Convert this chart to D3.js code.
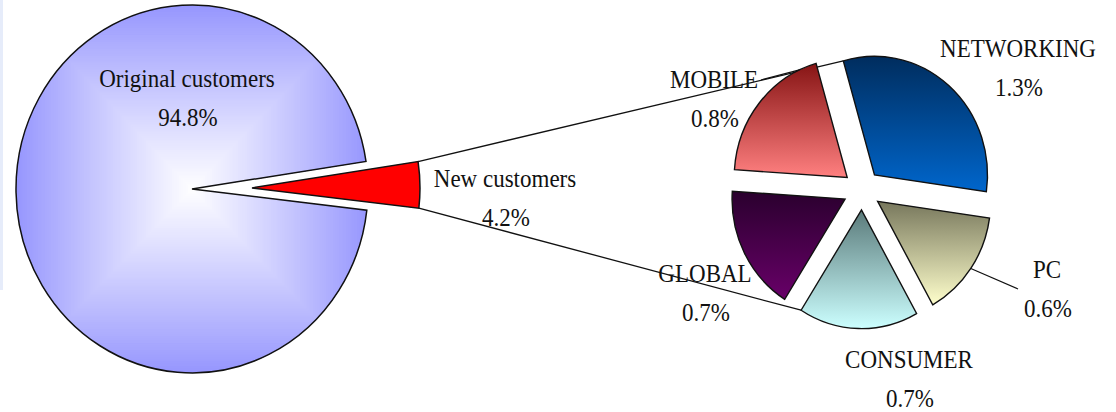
<!DOCTYPE html>
<html>
<head>
<meta charset="utf-8">
<script src="https://cdn.jsdelivr.net/npm/d3@7"></script>
<style>
  html, body { margin: 0; padding: 0; background: #fff; }
  text { font-family: 'Liberation Serif', 'Times New Roman', serif; fill: #111; }
</style>
</head>
<body>
<div id="chart"></div>
<script>
// data
var mainLabels = ['Original customers', 'New customers']
var mainValues = [94.8, 4.2]
var subLabels = ['NETWORKING', 'PC', 'CONSUMER', 'GLOBAL', 'MOBILE']
var subValues = [1.3, 0.6, 0.7, 0.7, 0.8]

var width = 1116
var height = 412
var deg = Math.PI / 180

var svg = d3
  .select('#chart')
  .append('svg')
  .attr('width', width)
  .attr('height', height)

var defs = svg.append('defs')

// slice gradients, top -> bottom
var subColors = {
  NETWORKING: ['#002d5e', '#0066cc'],
  PC: ['#77775c', '#ffffcc'],
  CONSUMER: ['#5a7a7a', '#ccffff'],
  GLOBAL: ['#2a002e', '#680068'],
  MOBILE: ['#861414', '#ff8080']
}
subLabels.forEach(function(name) {
  var g = defs.append('linearGradient')
    .attr('id', 'grad-' + name)
    .attr('x1', 0).attr('y1', 0).attr('x2', 0).attr('y2', 1)
  g.append('stop').attr('offset', '0%').attr('stop-color', subColors[name][0])
  g.append('stop').attr('offset', '100%').attr('stop-color', subColors[name][1])
})

// faint strip on the left edge
svg.append('rect')
  .attr('x', 0).attr('y', 0).attr('width', 3).attr('height', 290)
  .attr('fill', '#e6ecfa')

// ---------- main pie ----------
var main = { cx: 192, cy: 189, r: 176, sy: 1.045, explode: 60, rNew: 168, mid: 89 * deg }
var total = d3.sum(mainValues)
var newSpan = mainValues[1] / total * 2 * Math.PI
var mainStart = main.mid + newSpan / 2
var mainArcs = d3.pie().sort(null)
  .startAngle(mainStart)
  .endAngle(mainStart + 2 * Math.PI)(mainValues)

var gMain = svg.append('g')
  .attr('transform', 'translate(' + main.cx + ',' + main.cy + ') scale(1,' + main.sy + ')')

var arcOrig = d3.arc().innerRadius(0).outerRadius(main.r)
var arcNew = d3.arc().innerRadius(0).outerRadius(main.rNew)

// rectangular "from center" gradient, clipped to the big slice
defs.append('clipPath').attr('id', 'clip-orig')
  .append('path').attr('d', arcOrig(mainArcs[0]))
var steps = d3.range(80)
var fillCol = d3.interpolateRgb('#9696fe', '#ffffff')
gMain.append('g').attr('clip-path', 'url(#clip-orig)')
  .selectAll('rect')
  .data(steps)
  .join('rect')
  .attr('x', d => -main.r * (1 - d / steps.length))
  .attr('y', d => -main.r * (1 - d / steps.length))
  .attr('width', d => 2 * main.r * (1 - d / steps.length))
  .attr('height', d => 2 * main.r * (1 - d / steps.length))
  .attr('fill', d => fillCol(Math.pow(d / steps.length, 0.95)))

gMain.append('path')
  .attr('d', arcOrig(mainArcs[0]))
  .attr('fill', 'none')
  .attr('stroke', '#111')
  .attr('stroke-width', 1.5)
  .attr('vector-effect', 'non-scaling-stroke')

var newOff = [Math.sin(main.mid) * main.explode, -Math.cos(main.mid) * main.explode]
gMain.append('path')
  .attr('transform', 'translate(' + newOff[0] + ',' + newOff[1] + ')')
  .attr('d', arcNew(mainArcs[1]))
  .attr('fill', '#ff0000')
  .attr('stroke', '#111')
  .attr('stroke-width', 1.5)
  .attr('vector-effect', 'non-scaling-stroke')

// ---------- secondary pie ----------
var sub = { cx: 862, cy: 190, r: 113, sy: 1.05, explode: 19, start: -16 * deg }
var subArcs = d3.pie().sort(null)
  .startAngle(sub.start)
  .endAngle(sub.start + 2 * Math.PI)(subValues)
var arcSub = d3.arc().innerRadius(0).outerRadius(sub.r)

function midOf(a) { return (a.startAngle + a.endAngle) / 2 }
function offOf(a) {
  var m = midOf(a)
  return [Math.sin(m) * sub.explode, -Math.cos(m) * sub.explode]
}
// point on the outer arc of a secondary slice, in page coords
function subPoint(a, angle) {
  var o = offOf(a)
  return [
    sub.cx + o[0] + Math.sin(angle) * sub.r,
    sub.cy + sub.sy * (o[1] - Math.cos(angle) * sub.r)
  ]
}
function mainNewPoint(angle) {
  return [
    main.cx + newOff[0] + Math.sin(angle) * main.rNew,
    main.cy + main.sy * (newOff[1] - Math.cos(angle) * main.rNew)
  ]
}

// connector lines between the pies
var line = d3.line()
var first = subArcs[0]
var cons = subArcs[2]
svg.append('path')
  .attr('d', line([mainNewPoint(mainArcs[1].startAngle), subPoint(first, first.startAngle)]))
  .attr('stroke', '#111').attr('stroke-width', 1.3).attr('fill', 'none')
svg.append('path')
  .attr('d', line([mainNewPoint(mainArcs[1].endAngle), subPoint(cons, cons.endAngle)]))
  .attr('stroke', '#111').attr('stroke-width', 1.3).attr('fill', 'none')

var gSub = svg.append('g')
  .attr('transform', 'translate(' + sub.cx + ',' + sub.cy + ') scale(1,' + sub.sy + ')')

gSub.selectAll('path')
  .data(subArcs)
  .join('path')
  .attr('transform', d => 'translate(' + offOf(d) + ')')
  .attr('d', arcSub)
  .attr('fill', (d, i) => 'url(#grad-' + subLabels[i] + ')')
  .attr('stroke', '#111')
  .attr('stroke-width', 1.4)
  .attr('vector-effect', 'non-scaling-stroke')

// leader lines
var mobile = subArcs[4]
var pc = subArcs[1]
svg.append('path')
  .attr('d', line([[761, 80], subPoint(mobile, 335 * deg)]))
  .attr('stroke', '#111').attr('stroke-width', 1.2).attr('fill', 'none')
svg.append('path')
  .attr('d', line([subPoint(pc, midOf(pc)), [1018, 289]]))
  .attr('stroke', '#111').attr('stroke-width', 1.2).attr('fill', 'none')

// ---------- labels ----------
var labelPos = {
  'Original customers': [187, 87],
  'New customers': [505, 187],
  NETWORKING: [1018, 57],
  PC: [1047, 278],
  CONSUMER: [909, 368],
  GLOBAL: [705, 282],
  MOBILE: [714, 88]
}
var allLabels = mainLabels.concat(subLabels)
var allValues = mainValues.concat(subValues)

function addText(x, y, str) {
  svg.append('text')
    .attr('transform', 'translate(' + x + ',' + y + ') scale(1,1.14)')
    .attr('text-anchor', 'middle')
    .style('font-size', '23px')
    .text(str)
}
allLabels.forEach(function(name, i) {
  var p = labelPos[name]
  addText(p[0], p[1], name)
  addText(p[0] + 1, p[1] + 39, allValues[i].toFixed(1) + '%')
})
</script>
</body>
</html>
